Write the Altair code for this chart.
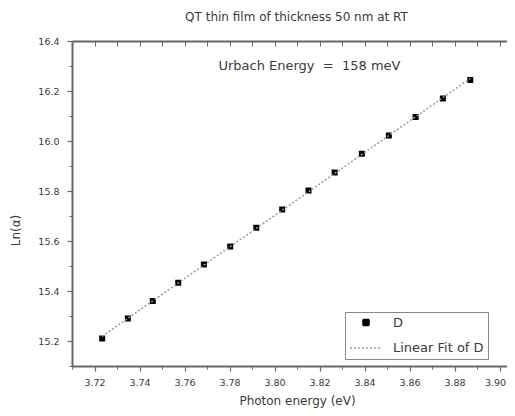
import altair as alt
import pandas as pd

energy = [3.7234, 3.7348, 3.7459, 3.7572, 3.7686, 3.7803, 3.7919, 3.8034,
          3.8151, 3.8267, 3.8388, 3.8508, 3.8627, 3.8748, 3.8870]
ln_alpha = [15.21, 15.290, 15.36, 15.433, 15.506, 15.578, 15.653, 15.726,
            15.802, 15.874, 15.949, 16.022, 16.096, 16.170, 16.244]
series_names = ["D", "Linear Fit of D"]
x_major = [3.72, 3.74, 3.76, 3.78, 3.80, 3.82, 3.84, 3.86, 3.88, 3.90]
x_minor = [3.71, 3.73, 3.75, 3.77, 3.79, 3.81, 3.83, 3.85, 3.87, 3.89]
y_major = [15.2, 15.4, 15.6, 15.8, 16.0, 16.2, 16.4]
y_minor = [15.1, 15.3, 15.5, 15.7, 15.9, 16.1, 16.3]
title_text = "QT thin film of thickness 50 nm at RT"
note_text = "Urbach Energy\u00a0 =\u00a0 158 meV"

df = pd.DataFrame({"energy": energy, "ln": ln_alpha, "series": "D"})
note_df = pd.DataFrame({"energy": [3.8155], "ln": [16.3], "label": [note_text]})

FONT = "DejaVu Sans"
AX = "#666666"
TXT = "#3a3a3a"

xs = alt.Scale(domain=[3.71, 3.9033], nice=False, zero=False)
ys = alt.Scale(domain=[15.1, 16.4], nice=False, zero=False)

col = alt.Scale(domain=series_names, range=["#000000", "#9a9a9a"])
shp = alt.Scale(domain=series_names, range=["square", "stroke"])
siz = alt.Scale(domain=series_names, range=[36, 1000])
dsh = alt.Scale(domain=series_names, range=[[1, 0], [2, 2]])

legend = alt.Legend(title=None, orient="none", legendX=273, legendY=271,
                    strokeColor="#888888", padding=4, labelFont=FONT,
                    labelFontSize=13, labelColor=TXT, rowPadding=1,
                    labelOffset=10, symbolStrokeWidth=1.5)

base_axis = dict(labelFont=FONT, titleFont=FONT, labelColor=TXT, titleColor=TXT,
                 domainColor=AX, tickColor=AX, grid=False)

points = alt.Chart(df).mark_point(filled=True, opacity=1).encode(
    x=alt.X("energy:Q", scale=xs, axis=alt.Axis(
        orient="bottom", values=x_major, format=".2f", tickSize=5, tickWidth=1.2,
        domainWidth=2, labelFontSize=9.5, labelPadding=6, labelFlush=10,
        labelFlushOffset=6, title="Photon energy  (eV)",
        titleFontSize=12, titleFontWeight="normal", titlePadding=9, titleX=225,
        **base_axis)),
    y=alt.Y("ln:Q", scale=ys, axis=alt.Axis(
        orient="left", values=y_major, format=".1f", tickSize=5, tickWidth=1.2,
        domainWidth=2, labelFontSize=9.5, labelPadding=8, title="Ln(α)", titleFontSize=12,
        titleFontWeight="normal", titleBaseline="middle", titleX=-57, titleY=189,
        **base_axis)),
    color=alt.Color("series:N", scale=col, legend=legend),
    shape=alt.Shape("series:N", scale=shp, legend=legend),
    size=alt.Size("series:N", scale=siz, legend=legend),
)

fit = alt.Chart(df).transform_regression("energy", "ln").transform_calculate(
    series="'Linear Fit of D'"
).mark_line(strokeWidth=1.5).encode(
    x=alt.X("energy:Q", scale=xs, axis=alt.Axis(
        orient="bottom", values=x_minor, labels=False, domain=False, tickSize=3,
        title=None, **base_axis)),
    y=alt.Y("ln:Q", scale=ys, axis=alt.Axis(
        orient="left", values=y_minor, labels=False, domain=False, tickSize=3,
        title=None, **base_axis)),
    color=alt.Color("series:N", scale=col, legend=legend),
    strokeDash=alt.StrokeDash("series:N", scale=dsh, legend=legend),
)

note = alt.Chart(note_df).mark_text(font=FONT, fontSize=13, color=TXT).encode(
    x=alt.X("energy:Q", scale=xs, axis=alt.Axis(
        orient="top", labels=False, ticks=False, domainWidth=2, title=None, **base_axis)),
    y=alt.Y("ln:Q", scale=ys, axis=None),
    text="label:N",
)

top_ticks = alt.Chart(df).mark_point(opacity=0).encode(
    x=alt.X("energy:Q", scale=xs, axis=alt.Axis(
        orient="top", values=x_major + x_minor, labels=False, domain=False,
        tickSize=5, offset=-5, title=None, **base_axis)),
    y=alt.Y("ln:Q", scale=ys, axis=None),
)

chart = alt.layer(points, fit, note, top_ticks).resolve_axis(
    x="independent", y="independent"
).properties(
    width=435, height=325,
    title=alt.TitleParams(title_text, font=FONT, fontSize=12, fontWeight="normal",
                          color=TXT, offset=12, dx=7),
    autosize=alt.AutoSizeParams(type="none"),
    padding={"left": 64, "top": 33, "right": 0, "bottom": 42},
).configure_view(stroke=None).configure(background="white")

chart.save("out.html", embed_options={"renderer": "svg", "actions": False})
